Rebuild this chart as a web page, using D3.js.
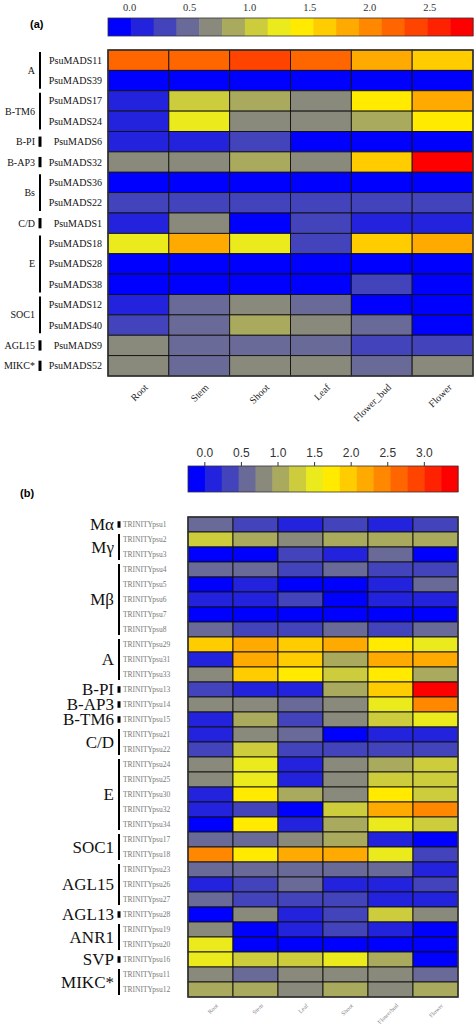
<!DOCTYPE html><html><head><meta charset="utf-8"><script src="https://cdn.jsdelivr.net/npm/d3@7"></script>
<style>body{margin:0;background:#fff}</style></head><body><svg id="c" width="474" height="1029"></svg>
<script>
const palette=["#0000ff","#2323dd","#4343bb","#6a6a98","#8a8a7c","#aaaa5e","#cccc3c","#eaea1c","#ffea00","#ffcc00","#ffaa00","#ff8800","#ff6600","#ff4400","#ff2200","#ff0000"];
// Panel a
const colsA=["Root","Stem","Shoot","Leaf","Flower_bud","Flower"];
const genesA=["PsuMADS11","PsuMADS39","PsuMADS17","PsuMADS24","PsuMADS6","PsuMADS32","PsuMADS36","PsuMADS22","PsuMADS1","PsuMADS18","PsuMADS28","PsuMADS38","PsuMADS12","PsuMADS40","PsuMADS9","PsuMADS52"];
const groupsA=[["A",0,1],["B-TM6",2,3],["B-PI",4,4],["B-AP3",5,5],["Bs",6,7],["C/D",8,8],["E",9,11],["SOC1",12,13],["AGL15",14,14],["MIKC*",15,15]];
const valuesA=[
[2.19,2.19,2.38,2.19,1.81,1.62],
[-0.09,-0.09,-0.09,-0.09,-0.09,-0.09],
[0.10,1.05,0.86,0.67,1.43,1.81],
[0.10,1.24,0.67,0.67,0.86,1.43],
[0.10,0.10,0.29,-0.09,-0.09,-0.09],
[0.67,0.67,0.86,0.67,1.62,2.76],
[-0.09,-0.09,-0.09,-0.09,-0.09,-0.09],
[0.29,0.29,0.29,0.29,0.29,0.29],
[0.10,0.67,-0.09,0.29,0.10,0.10],
[1.24,1.81,1.24,0.29,1.62,1.81],
[-0.09,-0.09,-0.09,-0.09,-0.09,-0.09],
[-0.09,-0.09,-0.09,-0.09,0.29,-0.09],
[0.10,0.48,0.67,0.48,-0.09,-0.09],
[0.29,0.48,0.86,0.67,0.48,-0.09],
[0.67,0.48,0.48,0.48,0.29,0.29],
[0.67,0.48,0.67,0.67,0.48,0.67]];
const ticksA=[0,0.5,1,1.5,2,2.5];
// Panel b
const colsB=["Root","Stem","Leaf","Shoot","Flowerbud","Flower"];
const genesB=["TRINITYpsu1","TRINITYpsu2","TRINITYpsu3","TRINITYpsu4","TRINITYpsu5","TRINITYpsu6","TRINITYpsu7","TRINITYpsu8","TRINITYpsu29","TRINITYpsu31","TRINITYpsu33","TRINITYpsu13","TRINITYpsu14","TRINITYpsu15","TRINITYpsu21","TRINITYpsu22","TRINITYpsu24","TRINITYpsu25","TRINITYpsu30","TRINITYpsu32","TRINITYpsu34","TRINITYpsu17","TRINITYpsu18","TRINITYpsu23","TRINITYpsu26","TRINITYpsu27","TRINITYpsu28","TRINITYpsu19","TRINITYpsu20","TRINITYpsu16","TRINITYpsu11","TRINITYpsu12"];
const groupsB=[["Mα",0,0],["Mγ",1,2],["Mβ",3,7],["A",8,10],["B-PI",11,11],["B-AP3",12,12],["B-TM6",13,13],["C/D",14,15],["E",16,20],["SOC1",21,22],["AGL15",23,25],["AGL13",26,26],["ANR1",27,28],["SVP",29,29],["MIKC*",30,31]];
const valuesB=[
[0.58,0.35,0.12,0.35,0.12,0.35],
[1.27,1.04,0.81,1.04,1.04,1.04],
[-0.12,-0.12,0.35,0.12,0.58,-0.12],
[0.58,0.58,0.35,0.58,0.35,0.35],
[-0.12,0.12,-0.12,-0.12,0.12,0.58],
[0.12,0.12,0.35,-0.12,0.12,0.12],
[-0.12,-0.12,-0.12,-0.12,-0.12,-0.12],
[0.58,0.35,0.35,0.58,0.35,0.58],
[1.96,2.19,1.96,2.19,1.73,1.50],
[0.12,2.19,1.96,1.04,2.19,2.19],
[0.81,1.96,1.73,1.27,1.73,1.04],
[0.35,0.12,0.12,1.04,1.96,3.34],
[0.81,0.81,0.58,0.81,1.50,2.42],
[0.12,1.04,0.35,0.81,1.27,1.50],
[0.12,0.81,0.58,-0.12,0.12,0.12],
[0.35,1.27,0.35,0.35,0.35,0.35],
[0.81,1.50,0.12,0.81,1.04,1.27],
[0.81,1.50,0.12,0.81,1.27,1.27],
[0.12,1.73,1.04,0.81,1.73,1.27],
[0.12,0.35,-0.12,1.27,2.19,2.42],
[-0.12,1.73,0.12,1.04,1.50,1.27],
[0.58,0.58,0.81,1.04,0.12,-0.12],
[2.42,1.73,2.19,2.19,1.50,0.35],
[0.58,0.58,0.58,0.58,0.58,0.12],
[0.12,0.35,0.58,0.12,0.12,0.35],
[0.58,0.35,0.35,0.35,0.12,0.12],
[-0.12,0.81,0.12,0.35,1.27,0.81],
[0.81,-0.12,0.12,0.35,0.12,-0.12],
[1.50,-0.12,-0.12,-0.12,-0.12,-0.12],
[1.50,1.27,1.27,1.50,1.04,-0.12],
[0.81,0.58,0.81,0.81,0.81,0.58],
[1.04,1.04,0.81,1.04,0.81,1.04]];
const ticksB=[0,0.5,1,1.5,2,2.5,3];

const svg=d3.select("#c");
const serif="'Liberation Serif','DejaVu Serif',serif", sans="'Liberation Sans',Arial,sans-serif";

function panel(o){
  const g=svg.append("g");
  const color=d3.scaleQuantize().domain(o.dom).range(palette);
  const lx=d3.scaleLinear().domain(o.dom).range([o.lg.x0,o.lg.x1]);
  const bw=(o.lg.x1-o.lg.x0)/palette.length;
  g.selectAll("rect.lg").data(palette).join("rect").attr("x",(d,i)=>o.lg.x0+i*bw).attr("y",o.lg.y).attr("width",bw+0.5).attr("height",o.lg.h).attr("fill",d=>d);
  g.append("rect").attr("x",o.lg.x0).attr("y",o.lg.y).attr("width",o.lg.x1-o.lg.x0).attr("height",o.lg.h).attr("fill","none").attr("stroke","#333").attr("stroke-width",0.8);
  g.selectAll("text.tk").data(o.ticks).join("text").attr("x",d=>lx(d)).attr("y",o.lg.ty).attr("text-anchor","middle")
   .attr("font-family",o.tickFont).attr("font-size",o.tickSize).attr("fill","#333").text(d=>d.toFixed(1));
  if(o.tickMarks) g.selectAll("line.tk").data(o.ticks).join("line").attr("x1",d=>lx(d)).attr("x2",d=>lx(d)).attr("y1",o.lg.y-4).attr("y2",o.lg.y).attr("stroke","#333");
  const x=d3.scaleBand().domain(o.cols).range([o.hx0,o.hx1]);
  const y=d3.scaleBand().domain(o.genes).range([o.hy0,o.hy1]);
  o.values.forEach((row,r)=>row.forEach((v,c)=>{
    g.append("rect").attr("x",x(o.cols[c])).attr("y",y(o.genes[r])).attr("width",x.bandwidth()).attr("height",y.bandwidth())
     .attr("fill",color(v)).attr("stroke","#111").attr("stroke-width",0.9);
  }));
  g.append("rect").attr("x",o.hx0).attr("y",o.hy0).attr("width",o.hx1-o.hx0).attr("height",o.hy1-o.hy0).attr("fill","none").attr("stroke","#333").attr("stroke-width",1.5);
  g.selectAll("text.gn").data(o.genes).join("text").attr("x",o.geneX).attr("y",d=>y(d)+y.bandwidth()/2).attr("dy","0.35em")
   .attr("text-anchor",o.geneAnchor).attr("font-family",serif).attr("font-size",o.geneSize).attr("fill",o.geneColor).text(d=>d);
  o.groups.forEach(([name,a,b])=>{
    const t=y(o.genes[a])+2, bt=y(o.genes[b])+y.bandwidth()-2;
    const single=a===b;
    g.append("line").attr("x1",o.barX).attr("x2",o.barX).attr("y1",single?t+y.bandwidth()*0.15:t).attr("y2",single?bt-y.bandwidth()*0.15:bt)
     .attr("stroke","#000").attr("stroke-width",single?3:2);
    g.append("text").attr("x",o.barX-5).attr("y",(t+bt)/2).attr("dy","0.35em").attr("text-anchor","end")
     .attr("font-family",serif).attr("font-size",o.grpSize).attr("fill","#111").text(name);
  });
  g.selectAll("text.xl").data(o.cols).join("text")
   .attr("transform",d=>`translate(${x(d)+x.bandwidth()/2+o.xlOff},${o.xlY}) rotate(-45)`).attr("text-anchor","end")
   .attr("font-family",serif).attr("font-size",o.xlSize).attr("fill",o.xlColor).text(d=>d);
  g.append("text").attr("x",o.tag[0]).attr("y",o.tag[1]).attr("font-family",sans).attr("font-weight","bold").attr("font-size",11).text(o.tagText);
}
panel({dom:[-0.18,2.86],lg:{x0:108,x1:473,y:18,h:18,ty:11},ticks:ticksA,tickFont:serif,tickSize:10.5,tickMarks:false,
  cols:colsA,genes:genesA,values:valuesA,groups:groupsA,hx0:108,hx1:473,hy0:50,hy1:376,
  geneX:102,geneAnchor:"end",geneSize:10,geneColor:"#111",barX:40,grpSize:10,xlOff:10,xlY:388,xlSize:10,xlColor:"#222",tag:[30,28],tagText:"(a)"});
panel({dom:[-0.23,3.46],lg:{x0:188,x1:458,y:466,h:26,ty:457},ticks:ticksB,tickFont:sans,tickSize:12,tickMarks:true,
  cols:colsB,genes:genesB,values:valuesB,groups:groupsB,hx0:188,hx1:458,hy0:517,hy1:997,
  geneX:123,geneAnchor:"start",geneSize:7.5,geneColor:"#777",barX:119,grpSize:17,xlOff:8,xlY:1006,xlSize:6,xlColor:"#888",tag:[20,497],tagText:"(b)"});
</script></body></html>
